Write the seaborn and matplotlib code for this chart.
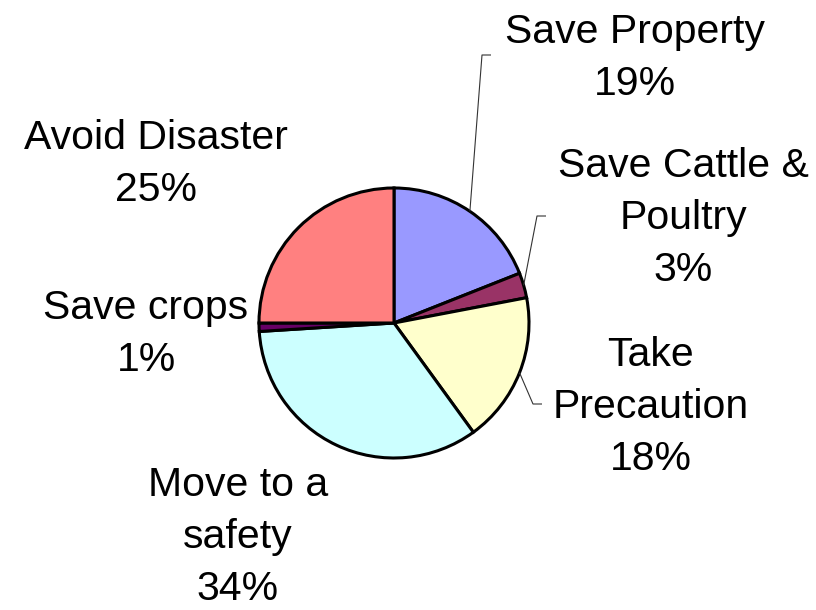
import matplotlib
matplotlib.use('Agg')
import matplotlib.pyplot as plt
import numpy as np
import seaborn as sns

labels = ['Save Property', 'Save Cattle &\nPoultry', 'Take\nPrecaution',
          'Move to a\nsafety', 'Save crops', 'Avoid Disaster']
values = [19, 3, 18, 34, 1, 25]
colors = ['#9999FF', '#993366', '#FFFFCC', '#CCFFFF', '#660066', '#FF8080']

sns.set_theme(style='white')
plt.rcParams['font.family'] = ['Liberation Sans', 'DejaVu Sans']

W, H = 816, 610
fig = plt.figure(figsize=(W / 100, H / 100), dpi=100)
ax = fig.add_axes([0, 0, 1, 1])

# pie placement in pixel space (y measured from the top of the image)
cx, cy, r = 394, 323, 135
wedges, _ = ax.pie(values, colors=colors, startangle=90, counterclock=False,
                   center=(cx, H - cy), radius=r,
                   wedgeprops=dict(edgecolor='black', linewidth=2.2))

# label centres (x, y from top)
label_pos = [(635, 58), (683, 218), (651, 407), (238, 537), (146, 334), (156, 164)]
# leader line elbows for the labels that have one
elbows = {0: (482, 55), 1: (537, 216), 2: (533, 404)}

for i, (lab, val) in enumerate(zip(labels, values)):
    x, y = label_pos[i]
    ax.text(x, H - y, f'{lab}\n{val}%', ha='center', va='center',
            multialignment='center', fontsize=29.5, linespacing=1.47,
            color='black')
    if i in elbows:
        w = wedges[i]
        ang = np.deg2rad((w.theta1 + w.theta2) / 2)
        x0, y0 = cx + r * np.cos(ang), (H - cy) + r * np.sin(ang)
        ex, ey = elbows[i]
        ax.plot([x0, ex, ex + 9], [y0, H - ey, H - ey],
                color='#333333', lw=0.8, solid_capstyle='butt')

ax.set_xlim(0, W)
ax.set_ylim(0, H)
ax.set_aspect('equal')
ax.axis('off')

fig.savefig('out.png', dpi=100, facecolor='white')
